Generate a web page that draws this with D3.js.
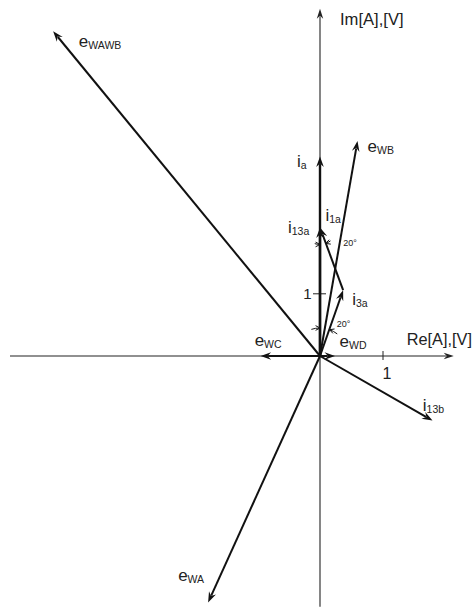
<!DOCTYPE html>
<html><head><meta charset="utf-8">
<script src="https://cdn.jsdelivr.net/npm/d3@7"></script>
<style>
html,body{margin:0;padding:0;background:#fff;}
svg{display:block;font-family:"Liberation Sans",Arial,Helvetica,sans-serif;}
</style></head><body>
<svg id="chart" width="472" height="609"></svg>
<script>
// ---- phasor data (real / imaginary parts, in units) ----
const symbols    = ["e", "e", "i", "i", "i", "i", "e", "e", "i", "e"];
const subscripts = ["WAWB", "WB", "a", "13a", "3a", "1a", "WC", "WD", "13b", "WA"];
const startRe    = [0, 0, 0, 0, 0, 0.37, 0, 0, 0, 0];
const startIm    = [0, 0, 0, 0, 0, 1.05, 0, 0, 0, 0];
const endRe      = [-4.27, 0.60, 0, 0, 0.37, 0, -0.95, 0.24, 1.80, -1.79];
const endIm      = [5.18, 3.43, 3.18, 2.05, 1.05, 2.05, 0, 0, -1.03, -3.93];

// axes extent and ticks
const reExtent   = [-4.96, 2.14];
const imExtent   = [-4.0, 5.54];
const reTicks    = [1];
const imTicks    = [1];
const reTitle    = "Re[A],[V]";
const imTitle    = "Im[A],[V]";

// angle annotations: vertex, reference direction (degrees, screen), opening
const angleVertexRe = [0, 0];
const angleVertexIm = [0, 2.05];
const angleBaseDir  = [-90, 90];
const angleDeg      = [20, -20];
const angleLabels   = ["20°", "20°"];

// ---- layout ----
const labelDx = [25.7, 10, -23, -32, 9, 5.5, -6, 4.5, -9.7, -30];
const labelDy = [16, 11.3, 10.7, 5.3, 15, -6.3, -10, -9.3, -10, -21.7];
const vecWidth = [2, 2, 2.4, 2.4, 2, 2, 2, 2, 2, 2];
const angleRadius = [28, 17];
const angleLabelDx = [16.7, 23.3];
const angleLabelDy = [-29.3, 19];

const svg = d3.select("#chart");
const ink = "#111";

const x = d3.scaleLinear().domain([0, 1]).range([320, 382.5]);
const y = d3.scaleLinear().domain([0, 1]).range([356, 293.3]);

function arrowHead(g, tx, ty, ang, len, hw, notch, color) {
  g.append("path")
    .attr("d", `M0,0 L${-len},${-hw} L${-notch},0 L${-len},${hw} Z`)
    .attr("transform", `translate(${tx},${ty}) rotate(${ang})`)
    .attr("fill", color).attr("stroke", "none");
}

function arrowLine(g, x0, y0, x1, y1, w, color, len, hw, notch) {
  const dx = x1 - x0, dy = y1 - y0;
  const L = Math.hypot(dx, dy);
  const ux = dx / L, uy = dy / L;
  const back = notch + 0.5;
  g.append("line")
    .attr("x1", x0).attr("y1", y0)
    .attr("x2", x1 - ux * back).attr("y2", y1 - uy * back)
    .attr("stroke", color).attr("stroke-width", w);
  arrowHead(g, x1, y1, Math.atan2(dy, dx) * 180 / Math.PI, len, hw, notch, color);
}

// ---- axes ----
const axes = svg.append("g");
arrowLine(axes, x(reExtent[0]), y(0), x(reExtent[1]), y(0), 1.1, "#222", 10, 3.2, 7);
arrowLine(axes, x(0), y(imExtent[0]), x(0), y(imExtent[1]), 1.1, "#222", 10, 3.2, 7);

const xAxis = svg.append("g")
  .attr("transform", `translate(0,${y(0)})`)
  .call(d3.axisBottom(x).tickValues(reTicks).tickFormat(d3.format("d"))
        .tickSize(4).tickPadding(7.6).tickSizeOuter(0));
xAxis.select(".domain").remove();
xAxis.selectAll(".tick line").attr("y1", -5).attr("stroke", "#222").attr("stroke-width", 1);
xAxis.selectAll(".tick text").attr("dx", 4).attr("fill", "#222")
  .style("font-size", "16px").style("font-family", "Liberation Sans, Arial, sans-serif");

const yAxis = svg.append("g")
  .attr("transform", `translate(${x(0)},0)`)
  .call(d3.axisLeft(y).tickValues(imTicks).tickFormat(d3.format("d"))
        .tickSize(7).tickPadding(1.5).tickSizeOuter(0));
yAxis.select(".domain").remove();
yAxis.selectAll(".tick line").attr("x1", 6).attr("stroke", "#222").attr("stroke-width", 1);
yAxis.selectAll(".tick text").attr("fill", "#222")
  .style("font-size", "15px").style("font-family", "Liberation Sans, Arial, sans-serif");

svg.append("text").attr("x", x(reExtent[1]) - 47).attr("y", 345)
  .attr("fill", "#222").style("font-size", "16.3px").text(reTitle);
svg.append("text").attr("x", 340).attr("y", 25)
  .attr("fill", "#222").style("font-size", "16.6px").text(imTitle);

// ---- phasors ----
const vecs = svg.append("g");
symbols.forEach((s, i) => {
  arrowLine(vecs, x(startRe[i]), y(startIm[i]), x(endRe[i]), y(endIm[i]),
            vecWidth[i], ink, 10.5, 3.8, 7);
});

// ---- phasor labels ----
const labels = svg.append("g").attr("fill", "#222");
symbols.forEach((s, i) => {
  const t = labels.append("text")
    .attr("x", x(endRe[i]) + labelDx[i])
    .attr("y", y(endIm[i]) + labelDy[i])
    .style("font-size", "17px");
  t.append("tspan").text(s);
  t.append("tspan").attr("dy", 2).style("font-size", "10.5px").text(subscripts[i]);
});

// ---- angle marks ----
const marks = svg.append("g").attr("stroke", ink).attr("fill", "none").attr("stroke-width", 1);
const rad = Math.PI / 180;
function arcMark(cx, cy, r, fromDeg, toDeg) {
  const p = d3.path();
  p.moveTo(cx + r * Math.cos(fromDeg * rad), cy + r * Math.sin(fromDeg * rad));
  p.arc(cx, cy, r, fromDeg * rad, toDeg * rad, toDeg < fromDeg);
  marks.append("path").attr("d", p.toString());
  const tx = cx + r * Math.cos(toDeg * rad), ty = cy + r * Math.sin(toDeg * rad);
  const dir = toDeg > fromDeg ? 1 : -1;
  const tang = Math.atan2(dir * Math.cos(toDeg * rad), -dir * Math.sin(toDeg * rad));
  [-28, 28].forEach(o => {
    const a = tang + Math.PI + o * rad;
    marks.append("line").attr("x1", tx).attr("y1", ty)
      .attr("x2", tx + 5 * Math.cos(a)).attr("y2", ty + 5 * Math.sin(a));
  });
}
angleDeg.forEach((d, i) => {
  const cx = x(angleVertexRe[i]), cy = y(angleVertexIm[i]);
  const a0 = angleBaseDir[i], a1 = a0 + d, s = Math.sign(d);
  arcMark(cx, cy, angleRadius[i], a0 - s * 18, a0);
  arcMark(cx, cy, angleRadius[i], a1 + s * 18, a1);
  svg.append("text").attr("x", cx + angleLabelDx[i]).attr("y", cy + angleLabelDy[i])
    .attr("fill", "#222").style("font-size", "9px").text(angleLabels[i]);
});
</script>
</body></html>
